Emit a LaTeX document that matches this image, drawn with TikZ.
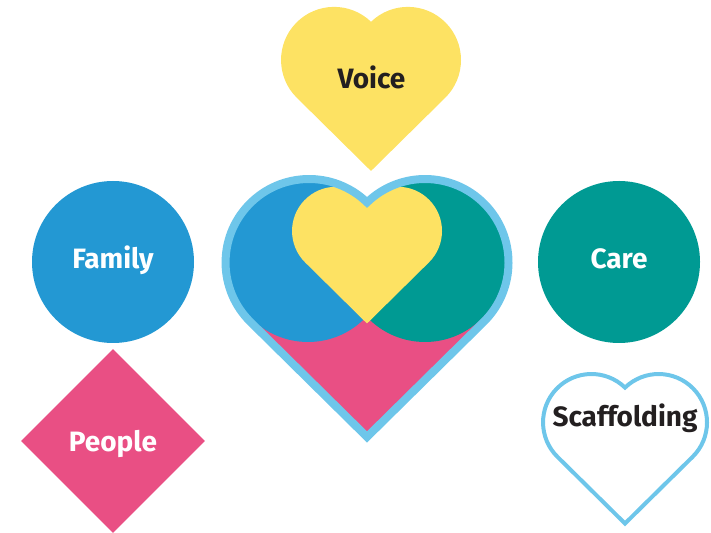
\documentclass[tikz,border=0pt]{standalone}
\usepackage{fontspec}
\setmainfont{Fira Sans}
\usetikzlibrary{shapes.geometric}
\definecolor{hblue}{HTML}{2398D3}
\definecolor{hteal}{HTML}{009A93}
\definecolor{hyellow}{HTML}{FDE263}
\definecolor{hpink}{HTML}{E94F84}
\definecolor{hline}{HTML}{6EC6EA}
\definecolor{hdark}{HTML}{231F20}
\newcommand\heartpath{(0,-1.233) -- (0.8243,-0.420) arc[start angle=-45.4, end angle=134, radius=0.59] arc[start angle=46, end angle=225.4, radius=0.59] -- cycle}
\begin{document}
\begin{tikzpicture}[x=1pt,y=1pt,
  lbl/.style={font=\bfseries\fontsize{28}{30}\selectfont, inner sep=0pt},
  lblw/.style={lbl, text=white},
  lbld/.style={lbl, text=hdark},
  disc/.style={circle, minimum size=162pt, inner sep=0pt, text height=21pt, text depth=7pt}]
\useasboundingbox (0,0) rectangle (711,532);
% Voice heart
\fill[hyellow, shift={(371,472)}, scale=90] \heartpath;
\node[lbld, anchor=base] (voice) at (371.5,443) {Voice};
% central heart
\fill[hpink, shift={(367,269.5)}, scale=141.5] \heartpath;
\begin{scope}
  \clip[shift={(367,269.5)}, scale=141.5] \heartpath;
  \fill[hblue] (308,270) circle[radius=80];
  \fill[hteal] (425,270) circle[radius=80];
\end{scope}
\fill[hyellow, shift={(367,301)}, scale=75] \heartpath;
\draw[hline, line width=8pt, shift={(367,269.5)}, scale=141.5] \heartpath;
% Family and Care
\node[disc, fill=hblue, lblw] (family) at (113,270) {Family};
\node[disc, fill=hteal, lblw] (care) at (619,270) {Care};
% People
\node[diamond, fill=hpink, minimum width=184pt, minimum height=184pt, lblw, text height=29pt, text depth=7pt] (people) at (113,91) {People};
% Scaffolding
\draw[hline, line width=4pt, shift={(625,109.6)}, scale=82] \heartpath;
\node[lbld, anchor=base] (scaffolding) at (625,105) {Scaffolding};
\end{tikzpicture}
\end{document}
